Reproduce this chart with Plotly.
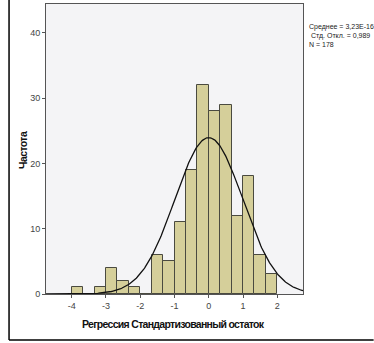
import numpy as np
import plotly.graph_objects as go

# Histogram bins (left edges, width 1/3) and counts
bin_left = [-4.0, -3.6667, -3.3333, -3.0, -2.6667, -2.3333, -2.0, -1.6667, -1.3333,
            -1.0, -0.6667, -0.3333, 0.0, 0.3333, 0.6667, 1.0, 1.3333, 1.6667]
counts = [1, 0, 1, 4, 2, 1, 0, 6, 5, 11, 19, 32, 28, 29, 12, 18, 6, 3]
bin_width = 1 / 3

# Statistics shown in the legend
mean_val = 3.23e-16
sd_val = 0.989
n_val = 178

x_ticks = [-4, -3, -2, -1, 0, 1, 2]
y_ticks = [0, 10, 20, 30, 40]

centers = [b + bin_width / 2 for b in bin_left]

# Fitted normal curve implied by the stated mean / SD / N
xc = np.linspace(-4.75, 2.75, 300)
yc = n_val * bin_width / (sd_val * np.sqrt(2 * np.pi)) * np.exp(-0.5 * ((xc - mean_val) / sd_val) ** 2)

fig = go.Figure()
fig.add_trace(go.Bar(
    x=centers, y=counts, width=bin_width,
    marker=dict(color="#D5CF9A", line=dict(color="#4a4a40", width=1)),
    showlegend=False, hoverinfo="skip"))
fig.add_trace(go.Scatter(
    x=xc, y=yc, mode="lines", line=dict(color="#111111", width=1.3),
    showlegend=False, hoverinfo="skip"))

L, R, T, B = 46, 303.3, 4.3, 294
W, H = 374, 343
pw, ph = R - L, B - T

def px(x):
    return (x - L) / pw

def py(y):
    return (B - y) / ph

TITLE_FONT = dict(size=10.5, color="#111111", family="Liberation Sans, Arial")

fig.update_layout(
    width=W, height=H,
    margin=dict(l=L, r=W - R, t=T, b=H - B, pad=0),
    paper_bgcolor="white", plot_bgcolor="#F4F4F6",
    bargap=0,
    font=dict(family="Liberation Sans, Arial, sans-serif", color="#333333"),
    xaxis=dict(range=[-4.75, 2.75], tickmode="array", tickvals=x_ticks,
               ticktext=[str(v) for v in x_ticks], showgrid=False, zeroline=False,
               showline=True, linecolor="#555555", linewidth=1, mirror=True,
               ticks="outside", ticklen=3, tickcolor="#555555",
               tickfont=dict(size=9, color="#444444")),
    yaxis=dict(range=[0, 44.4], tickmode="array", tickvals=y_ticks,
               ticktext=[str(v) for v in y_ticks], showgrid=False, zeroline=False,
               showline=True, linecolor="#555555", linewidth=1, mirror=True,
               ticks="outside", ticklen=3, tickcolor="#555555",
               tickfont=dict(size=9, color="#444444")),
    annotations=[
        dict(text='<span style="letter-spacing:-0.6px"><b>Частота</b></span>',
             x=px(23), y=py(150), xref="paper", yref="paper",
             textangle=-90, showarrow=False, xanchor="center", yanchor="middle",
             font=TITLE_FONT),
        dict(text='<span style="letter-spacing:-0.7px"><b>Регрессия Стандартизованный остаток</b></span>',
             x=px(174), y=py(324),
             xref="paper", yref="paper", showarrow=False, xanchor="center", yanchor="middle",
             font=TITLE_FONT),
        dict(text="Среднее = 3,23E-16<br> Стд. Откл. = 0,989<br>N = 178",
             x=px(307), y=py(21), xref="paper", yref="paper", showarrow=False,
             xanchor="left", yanchor="top", align="left",
             font=dict(size=7, color="#222222", family="Liberation Sans, Arial")),
    ],
    shapes=[
        dict(type="line", xref="paper", yref="paper", x0=px(9), x1=px(9), y0=py(0), y1=py(340),
             line=dict(color="black", width=1.5)),
        dict(type="line", xref="paper", yref="paper", x0=px(9), x1=px(374), y0=py(340), y1=py(340),
             line=dict(color="black", width=1.5)),
    ],
)

fig.write_html("out.html")
